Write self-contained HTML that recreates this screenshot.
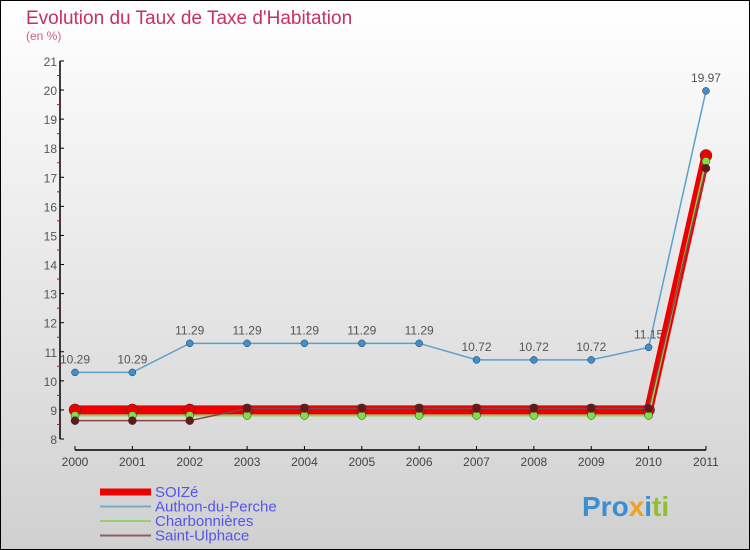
<!DOCTYPE html>
<html><head><meta charset="utf-8"><style>
body{margin:0}
#c{width:750px;height:550px;position:relative;overflow:hidden;font-family:"Liberation Sans",sans-serif}
</style></head><body>
<div id="c">
<svg id="s" width="750" height="550" xmlns="http://www.w3.org/2000/svg">
<defs><linearGradient id="bg" x1="0" y1="0" x2="0" y2="1"><stop offset="0" stop-color="#ffffff"/><stop offset="1" stop-color="#d0d0d0"/></linearGradient></defs>
<rect x="0.5" y="0.5" width="749" height="549" fill="url(#bg)" stroke="#000"/>
<text x="26" y="24" font-size="19" fill="#c8305f">Evolution du Taux de Taxe d'Habitation</text>
<text x="26" y="40" font-size="12" fill="#d06080">(en %)</text>
<g id="axes"></g><g id="series"></g><g id="legend"></g>
<text x="582" y="516" font-size="28" font-weight="bold" fill="#3a8fd0">Pro<tspan fill="#f0a020">x</tspan><tspan fill="#3a8fd0">i</tspan><tspan fill="#90c030">ti</tspan></text>
</svg></div>
<script>
const years=[2000,2001,2002,2003,2004,2005,2006,2007,2008,2009,2010,2011];
const soize=[9,9,9,9,9,9,9,9,9,9,9,17.75];
const authon=[10.29,10.29,11.29,11.29,11.29,11.29,11.29,10.72,10.72,10.72,11.15,19.97];
const charb=[8.81,8.81,8.81,8.81,8.81,8.81,8.81,8.81,8.81,8.81,8.81,17.55];
const ulph=[8.63,8.63,8.63,9.05,9.05,9.05,9.05,9.05,9.05,9.05,9.05,17.31];
const yTicks=[8,9,10,11,12,13,14,15,16,17,18,19,20,21];
const NS="http://www.w3.org/2000/svg";
const X=i=>75+i*57.36, Y=v=>439-(v-8)*29.08;
function mk(p,t,a){const e=document.createElementNS(NS,t);for(const k in a)e.setAttribute(k,a[k]);p.appendChild(e);return e;}
const ax=document.getElementById('axes');
let e=mk(ax,'line',{x1:60,y1:Y(21),x2:60,y2:Y(8),stroke:'#000','stroke-width':1.5});

e=mk(ax,'line',{x1:75,y1:450,x2:X(11),y2:450,stroke:'#000','stroke-width':1.5});

yTicks.forEach(v=>{mk(ax,'line',{x1:60,y1:Y(v),x2:64,y2:Y(v),stroke:'#000'});
 if(v<21)mk(ax,'line',{x1:57,y1:Y(v+0.5),x2:60,y2:Y(v+0.5),stroke:'#e00'});
 const t=mk(ax,'text',{x:57,y:Y(v)+5,'font-size':12,fill:'#555','text-anchor':'end'});t.textContent=v;
 });
years.forEach((y,i)=>{mk(ax,'line',{x1:X(i),y1:446,x2:X(i),y2:450,stroke:'#000'});
 const t=mk(ax,'text',{x:X(i),y:466,'font-size':12,fill:'#444','text-anchor':'middle'});t.textContent=y;
 });
const sg=document.getElementById('series');
function draw(vals,col,w,r,name,dot,lab){
 const g=mk(sg,'g',{});
 mk(g,'polyline',{points:vals.map((v,i)=>X(i)+','+Y(v)).join(' '),fill:'none',stroke:col,'stroke-width':w});
 vals.forEach((v,i)=>{const c=mk(g,'circle',{cx:X(i),cy:Y(v),r:r,fill:dot,stroke:'#333','stroke-width':0.5});
  
  if(lab){const t=mk(g,'text',{x:X(i),y:Y(v)-9,'font-size':12,fill:'#555','text-anchor':'middle'});t.textContent=v.toFixed(2);}});
}
draw(authon,'#5aa0d0',1.5,3.5,'series-authon','#3d8fd0',true);
draw(soize,'#e00',9,6,'series-soize','#e00',false);
draw(charb,'#90d060',2,4,'series-charbonnieres','#80e040',false);
draw(ulph,'#884444',1.5,4,'series-saint-ulphace','#661818',false);
const lg=document.getElementById('legend');
[['SOIZé','#e00',7],['Authon-du-Perche','#7aa8c8',2],['Charbonnières','#98d070',2],['Saint-Ulphace','#886060',2]].forEach((d,i)=>{
 const y=492+i*14.5;
 const g=mk(lg,'g',{});
 mk(g,'line',{x1:100,y1:y,x2:151,y2:y,stroke:d[1],'stroke-width':d[2]});
 const t=mk(g,'text',{x:155,y:y+5,'font-size':15,fill:'#5555ee'});t.textContent=d[0];});
</script>
</body></html>
